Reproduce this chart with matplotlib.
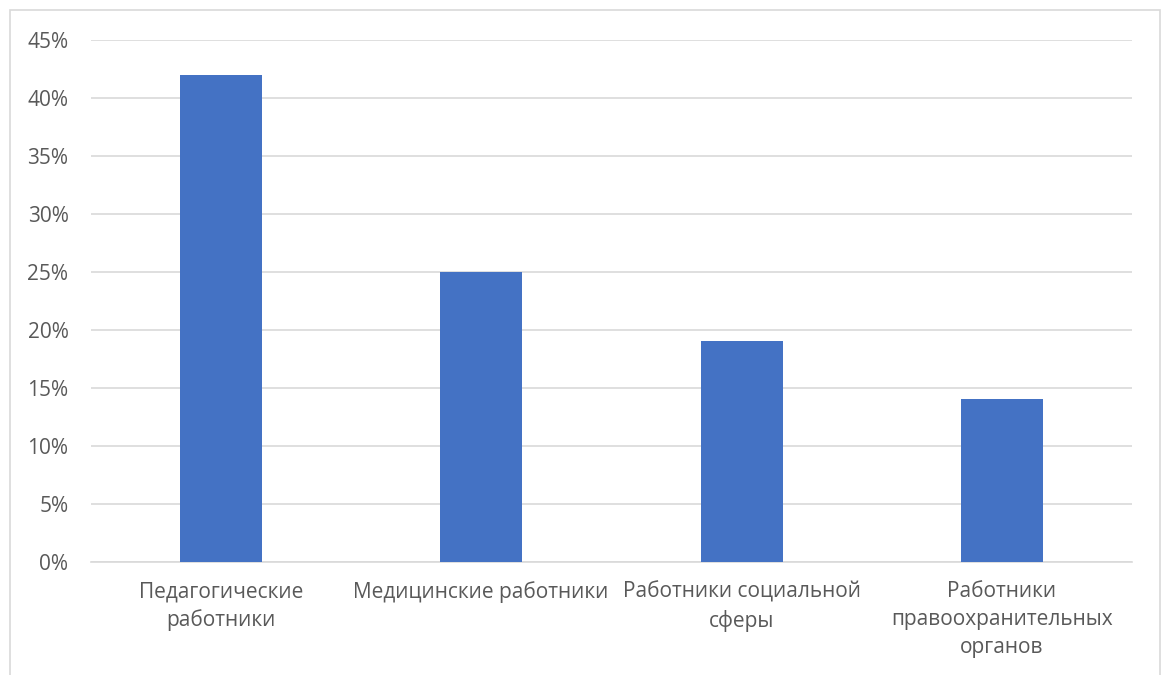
import matplotlib
matplotlib.use("Agg")
import matplotlib.pyplot as plt
from matplotlib.patches import Rectangle
from matplotlib.ticker import FuncFormatter, MultipleLocator

categories = ["Педагогические\nработники", "Медицинские работники",
              "Работники социальной\nсферы", "Работники\nправоохранительных\nорганов"]
values = [42, 25, 19, 14]

W, H = 1168, 675
fig = plt.figure(figsize=(W / 100, H / 100), dpi=100)
plt.rcParams['font.family'] = ['Open Sans', 'DejaVu Sans']

# outer chart border
fig.add_artist(Rectangle((9.5 / W, -0.1), (1160 - 9.5) / W, 1.1 - 10 / H,
                         transform=fig.transFigure, fill=False,
                         edgecolor='#d9d9d9', linewidth=1.2))

left, right, top, bottom = 90.7, 1132, 40, 561.7
ax = fig.add_axes([left / W, 1 - bottom / H, (right - left) / W, (bottom - top) / H])

x = range(len(categories))
ax.bar(x, values, width=0.315, color='#4472c4', zorder=3)
ax.set_xlim(-0.5, len(categories) - 0.5)
ax.set_ylim(0, 45)
ax.yaxis.set_major_locator(MultipleLocator(5))
ax.yaxis.set_major_formatter(FuncFormatter(lambda v, p: f"{int(round(v))}%"))
ax.grid(axis='y', color='#d9d9d9', linewidth=1.2, zorder=0)
ax.set_axisbelow(True)
for s in ['top', 'right', 'left']:
    ax.spines[s].set_visible(False)
ax.spines['bottom'].set_color('#d9d9d9')
ax.spines['bottom'].set_linewidth(1.2)
ax.set_xticks(list(x))
ax.set_xticklabels(categories, fontsize=15, color='#595959', linespacing=1.42)
ax.tick_params(axis='x', length=0, pad=14)
ax.tick_params(axis='y', length=0, pad=16, labelsize=15, labelcolor='#595959')

fig.savefig("out.png", dpi=100)
